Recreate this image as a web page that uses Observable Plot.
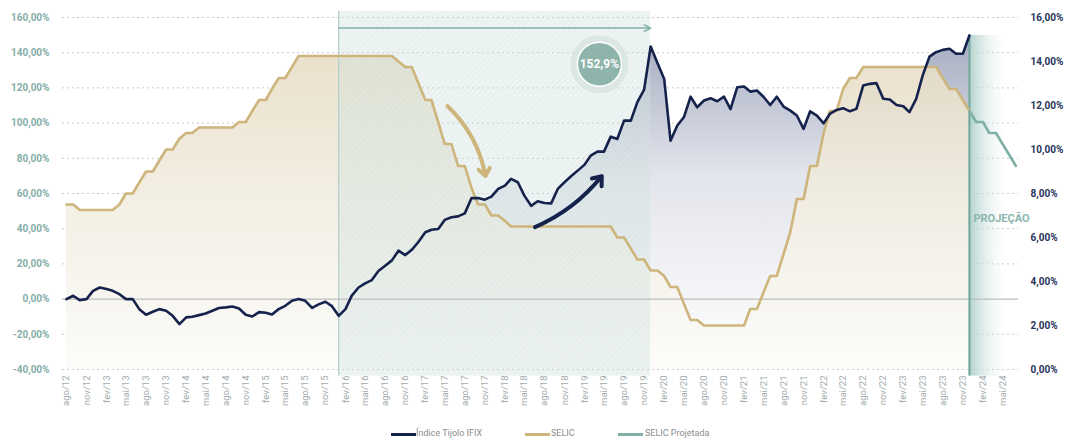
<!DOCTYPE html>
<html><head><meta charset="utf-8">
<script src="https://cdn.jsdelivr.net/npm/d3@7"></script>
<script src="https://cdn.jsdelivr.net/npm/@observablehq/plot@0.6"></script>
<style>
body{margin:0;background:#fff;}
#wrap{position:relative;width:1077px;height:441px;overflow:hidden;font-family:Roboto,"Open Sans",sans-serif;}
#wrap svg{display:block;}
.sw{position:absolute;top:433px;height:3px;width:25px;}
.lb{position:absolute;top:428px;font-size:9px;line-height:11px;color:#8c8c8c;white-space:nowrap;}
</style></head>
<body>
<div id="wrap"></div>
<script>
// ---- data ----
const startMonth = "2012-08-01";           // first month (ago/12)
// Índice Tijolo IFIX, cumulative %, monthly ago/12 .. dez/23 (left axis)
const ifix = [0,1.9,-0.6,0,4.7,6.6,5.7,4.7,2.8,0,0,-5.7,-8.9,-7.2,-5.7,-6.6,-9.5,-14.2,-10.4,-10,
  -9.1,-8.2,-6.6,-5.1,-4.7,-4.2,-5.3,-8.9,-9.9,-7.4,-7.8,-8.7,-5.7,-3.8,-0.9,0,-1,-5,-3,-1.5,
  -4,-9.5,-5.7,2,6.6,8.9,10.8,16,19,22,27.5,25,28,32.6,38,39.4,39.8,45,46.5,47,
  48.7,57.4,57.4,56.5,58.2,62.6,64.5,68.3,66.4,58.8,53,55.6,54.6,54.4,62.6,66.4,69.8,73,76.4,81.5,
  83.8,83.8,92.3,91,101.4,101.4,111.9,119,143.5,134.2,125.1,90,98.6,103.3,115,109,112.8,114.1,112.4,115,
  108,120.4,120.8,117.9,118.5,115,110.3,115,109.4,107.1,104.3,96.7,106.7,104.3,99.9,105.2,107.5,108.5,106.7,108.1,
  121.3,122.3,122.7,113.8,113.4,110.3,109.6,106.2,113.8,127.1,137.8,140.3,141.6,142.2,139.4,139.4,149.8];
// SELIC % a.a., monthly ago/12 .. dez/23 (right axis)
const selic = [7.5,7.5,7.25,7.25,7.25,7.25,7.25,7.25,7.5,8,8,8.5,9,9,9.5,10,10,10.5,10.75,10.75,
  11,11,11,11,11,11,11.25,11.25,11.75,12.25,12.25,12.75,13.25,13.25,13.75,14.25,14.25,14.25,14.25,14.25,
  14.25,14.25,14.25,14.25,14.25,14.25,14.25,14.25,14.25,14.25,14,13.75,13.75,13,12.25,12.25,11.25,10.25,10.25,9.25,
  9.25,8.25,7.5,7.5,7,7,6.75,6.5,6.5,6.5,6.5,6.5,6.5,6.5,6.5,6.5,6.5,6.5,6.5,6.5,
  6.5,6.5,6.5,6,6,5.5,5,5,4.5,4.5,4.25,3.75,3.75,3,2.25,2.25,2,2,2,2,
  2,2,2,2.75,2.75,3.5,4.25,4.25,5.25,6.25,7.75,7.75,9.25,9.25,10.75,11.75,11.75,12.75,13.25,13.25,
  13.75,13.75,13.75,13.75,13.75,13.75,13.75,13.75,13.75,13.75,13.75,13.75,13.25,12.75,12.75,12.25,11.75];
// SELIC projetada, dez/23 .. jul/24
const selicProj = [11.75,11.25,11.25,10.75,10.75,10.25,9.75,9.25];
const leftTicks = [-40,-20,0,20,40,60,80,100,120,140,160];
const rightTicks = [0,2,4,6,8,10,12,14,16];
const monthsPt = ["jan","fev","mar","abr","mai","jun","jul","ago","set","out","nov","dez"];
const highlight = [{from: "2016-01-01", to: "2019-12-01", level: 154}];
const bubble = [{date: "2019-04-10", v: 133.5, label: "152,9%"}];
const selicArrow = [{x1: "2017-05-13", y1: 109.7, x2: "2017-11-04", y2: 69.9}];
const ifixArrow = [{x1: "2018-06-19", y1: 40.9, x2: "2019-04-21", y2: 69.9}];
const projLabel = [{date: "2023-12-01", v: 46, label: "PROJEÇÃO"}];

// ---- derived ----
const t0 = new Date(startMonth);
const mon = i => d3.utcMonth.offset(t0, i);
const toLeft = s => -40 + s * 12.5;       // right-axis value -> left-axis scale
const ifixData = ifix.map((v, i) => ({date: mon(i), v}));
const selicData = selic.map((s, i) => ({date: mon(i), v: toLeft(s)}));
const projData = selicProj.map((s, i) => ({date: mon(selic.length - 1 + i), v: toLeft(s)}));
const lastIfix = ifixData[ifixData.length - 1];
const xTicks = d3.range(0, 142, 3).map(mon);
const fmtPct = d => d.toFixed(2).replace(".", ",") + "%";
const hl = highlight.map(d => ({...d, from: new Date(d.from), to: new Date(d.to)}));
const asDates = arr => arr.map(d => ({...d, x1: new Date(d.x1), x2: new Date(d.x2)}));
const bub = bubble.map(d => ({...d, date: new Date(d.date)}));
const pl = projLabel.map(d => ({...d, date: new Date(d.date)}));
const projEnd = [{from: lastIfix.date, to: mon(selic.length - 1 + 6), top: lastIfix.v}];

const chart = Plot.plot({
  width: 1077, height: 415,
  marginLeft: 62, marginRight: 59, marginTop: 17, marginBottom: 46,
  style: {fontFamily: "Roboto, 'Open Sans', sans-serif", background: "transparent", overflow: "visible"},
  x: {type: "utc", domain: [new Date("2012-07-14"), new Date("2024-07-13")], label: null},
  y: {domain: [-40, 160], label: null},
  marks: [
    Plot.gridY(leftTicks.filter(d => d !== 0), {stroke: "#c9c9c9", strokeOpacity: 1, strokeDasharray: "2,3"}),
    Plot.areaY(ifixData, {x: "date", y1: -40, y2: "v", fill: "url(#gIfix)"}),
    Plot.areaY(selicData, {x: "date", y1: -40, y2: "v", fill: "url(#gSelic)"}),
    Plot.rect(hl, {x1: "from", x2: "to", y1: -43.75, y2: 163.6, fill: "url(#hatch)", fillOpacity: 0.42}),
    Plot.ruleX(hl, {x: "from", y1: -43.75, y2: 163.6, stroke: "#b3ceca", strokeWidth: 1.2}),
    Plot.rect(projEnd, {x1: "from", x2: "to", y1: -43.75, y2: "top", fill: "url(#gProj)"}),
    Plot.ruleY([0], {stroke: "#bdbdbd", strokeWidth: 1.2}),
    Plot.ruleX([lastIfix], {x: "date", y1: -43.75, y2: "v", stroke: "#6fa69c", strokeWidth: 2}),
    Plot.line(selicData, {x: "date", y: "v", stroke: "#cdb57c", strokeWidth: 2.6}),
    Plot.line(projData, {x: "date", y: "v", stroke: "#7fb0a6", strokeWidth: 2.6}),
    Plot.line(ifixData, {x: "date", y: "v", stroke: "#15224c", strokeWidth: 2.6}),
    Plot.arrow(hl, {x1: "from", x2: "to", y1: "level", y2: "level", stroke: "#7fb0a6", strokeWidth: 1.5, headLength: 7, headAngle: 55}),
    Plot.arrow(asDates(selicArrow), {x1: "x1", y1: "y1", x2: "x2", y2: "y2", stroke: "#cdb57c", bend: 18, strokeWidth: 4, headLength: 3.5, headAngle: 75}),
    Plot.arrow(asDates(ifixArrow), {x1: "x1", y1: "y1", x2: "x2", y2: "y2", stroke: "#15224c", bend: -14, strokeWidth: 4, headLength: 3.8, headAngle: 75}),
    Plot.dot(bub, {x: "date", y: "v", r: 29, fill: "#d8e5e2", fillOpacity: 0.85}),
    Plot.dot(bub, {x: "date", y: "v", r: 22, fill: "#8fb4ac", stroke: "#ffffff", strokeWidth: 1.5}),
    Plot.text(bub, {x: "date", y: "v", text: "label", fill: "white", fontSize: 12, fontWeight: "bold"}),
    Plot.text(pl, {x: "date", y: "v", text: "label", fill: "#8bb7af", fontSize: 11, fontWeight: "bold", textAnchor: "start", dx: 4}),
    Plot.axisY(leftTicks, {anchor: "left", tickSize: 0, tickPadding: 13, tickFormat: fmtPct, fill: "#86aea8", fontSize: 10, fontWeight: "bold", label: null}),
    Plot.axisY(rightTicks.map(toLeft), {anchor: "right", tickSize: 0, tickPadding: 12, tickFormat: d => fmtPct((d + 40) / 12.5), fill: "#27345a", fontSize: 10, fontWeight: "bold", label: null}),
    Plot.axisX(xTicks, {anchor: "bottom", tickSize: 0, tickPadding: 6, tickRotate: -90, tickFormat: d => monthsPt[d.getUTCMonth()] + "/" + String(d.getUTCFullYear()).slice(2), fill: "#a3abab", fontSize: 9.5, label: null})
  ]
});

d3.select(chart).insert("defs", ":first-child").html(`
  <linearGradient id="gIfix" gradientUnits="userSpaceOnUse" x1="0" y1="17" x2="0" y2="369">
    <stop offset="0" stop-color="#9ea5bb"/>
    <stop offset="0.45" stop-color="#e3e5ec"/>
    <stop offset="1" stop-color="#ffffff"/>
  </linearGradient>
  <linearGradient id="gSelic" gradientUnits="userSpaceOnUse" x1="0" y1="17" x2="0" y2="369">
    <stop offset="0" stop-color="#e4d9bd" stop-opacity="0.88"/>
    <stop offset="0.5" stop-color="#f1ecdf" stop-opacity="0.88"/>
    <stop offset="1" stop-color="#fdfcfa" stop-opacity="0.9"/>
  </linearGradient>
  <linearGradient id="gProj" x1="0" y1="0" x2="1" y2="0">
    <stop offset="0" stop-color="#a9ccc6" stop-opacity="0.9"/>
    <stop offset="1" stop-color="#ffffff" stop-opacity="0"/>
  </linearGradient>
  <pattern id="hatch" width="4" height="4" patternUnits="userSpaceOnUse" patternTransform="rotate(45)">
    <rect width="4" height="4" fill="#d4e5e2"/>
    <line x1="0" y1="0" x2="0" y2="4" stroke="#bcd4d0" stroke-width="1.4"/>
  </pattern>`);

const wrap = document.getElementById("wrap");
wrap.appendChild(chart);
const legend = [
  {sw: 391, lb: 416, color: "#15224c", text: "Índice Tijolo IFIX"},
  {sw: 525, lb: 551, color: "#cdb57c", text: "SELIC"},
  {sw: 618, lb: 645, color: "#7fb0a6", text: "SELIC Projetada"}
];
for (const l of legend) {
  const s = document.createElement("span"); s.className = "sw"; s.style.left = l.sw + "px"; s.style.background = l.color; wrap.appendChild(s);
  const t = document.createElement("span"); t.className = "lb"; t.style.left = l.lb + "px"; t.textContent = l.text; wrap.appendChild(t);
}
</script>
</body></html>
